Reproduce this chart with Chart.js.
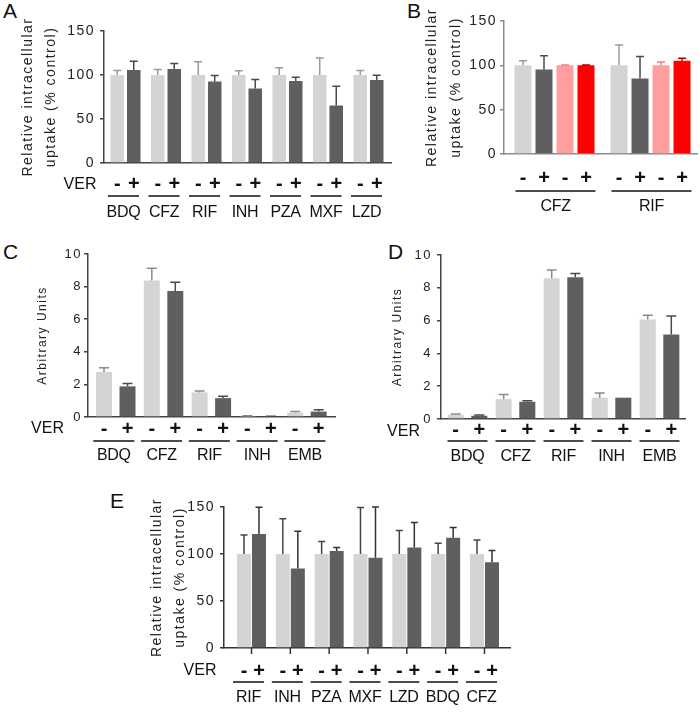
<!DOCTYPE html>
<html><head><meta charset="utf-8">
<script src="https://cdn.jsdelivr.net/npm/chart.js@4.4.1/dist/chart.umd.min.js"></script>
<style>
body{margin:0;background:#fff;width:700px;height:713px;position:relative;overflow:hidden;font-family:"Liberation Sans",Arial,sans-serif}
canvas{position:absolute}
.L{position:absolute;font-size:21px;line-height:21px;color:#111}
</style></head><body>
<div class="L" style="left:3px;top:0px">A</div>
<div class="L" style="left:407px;top:0px">B</div>
<div class="L" style="left:3px;top:241px">C</div>
<div class="L" style="left:388px;top:241px">D</div>
<div class="L" style="left:110px;top:490px">E</div>
<canvas id="cA" width="400" height="230" style="left:0;top:0"></canvas>
<canvas id="cB" width="300" height="230" style="left:400px;top:0"></canvas>
<canvas id="cC" width="350" height="240" style="left:0;top:230px"></canvas>
<canvas id="cD" width="350" height="240" style="left:350px;top:230px"></canvas>
<canvas id="cE" width="420" height="233" style="left:140px;top:480px"></canvas>
<script>
// ---------- data ----------
const VER_SIGNS = ['-', '+'];
const B_SIGNS = ['-', '+', '-', '+'];
const UPTAKE_TITLE = ['Relative intracellular', 'uptake (% control)'];
const AU_TITLE = 'Arbitrary Units';

const A_drugs = ['BDQ', 'CFZ', 'RIF', 'INH', 'PZA', 'MXF', 'LZD'];
const A_minus = [100, 100, 100, 100, 100, 100, 100];
const A_minus_sd = [5.2, 6.3, 15.0, 4.9, 8.2, 19.4, 5.0];
const A_plus = [105.6, 106.7, 92.5, 84.7, 93.3, 65.3, 94.3];
const A_plus_sd = [10.1, 6.3, 6.8, 10.1, 4.1, 22.0, 5.4];

const B_drugs = ['CFZ', 'RIF'];
const B_s1 = [100, 100];
const B_s1_sd = [5.2, 23.0];
const B_s2 = [95.2, 85.2];
const B_s2_sd = [15.5, 24.8];
const B_s3 = [100, 100];
const B_s3_sd = [0.5, 3.7];
const B_s4 = [100, 105.2];
const B_s4_sd = [0.3, 2.8];

const C_drugs = ['BDQ', 'CFZ', 'RIF', 'INH', 'EMB'];
const C_minus = [2.76, 8.37, 1.51, 0.06, 0.27];
const C_minus_sd = [0.26, 0.75, 0.08, 0.02, 0.06];
const C_plus = [1.88, 7.73, 1.16, 0.04, 0.33];
const C_plus_sd = [0.18, 0.54, 0.11, 0.01, 0.12];

const D_drugs = ['BDQ', 'CFZ', 'RIF', 'INH', 'EMB'];
const D_minus = [0.26, 1.21, 8.58, 1.30, 6.07];
const D_minus_sd = [0.04, 0.29, 0.51, 0.28, 0.25];
const D_plus = [0.20, 1.05, 8.64, 1.30, 5.16];
const D_plus_sd = [0.04, 0.06, 0.23, 0, 1.12];

const E_drugs = ['RIF', 'INH', 'PZA', 'MXF', 'LZD', 'BDQ', 'CFZ'];
const E_minus = [100, 100, 100, 100, 100, 100, 100];
const E_minus_sd = [20.3, 37.4, 13.2, 49.5, 24.9, 11.4, 15.0];
const E_plus = [121.4, 84.7, 103.2, 96.1, 106.8, 117.4, 91.1];
const E_plus_sd = [28.4, 39.5, 3.6, 54.0, 26.7, 10.7, 12.5];

// ---------- styling ----------
const FONT = '"Liberation Sans", Arial, sans-serif';
const LIGHT = '#d4d4d4', DARK = '#5f5f5f', PINK = '#ff9e9e', RED = '#ff0000';

function makeDeco(p) {
  return {
    id: 'deco',
    beforeDraw(chart) { chart.ctx.letterSpacing = p.spacing; },
    afterDatasetsDraw(chart) {
      const ctx = chart.ctx, ys = chart.scales.y;
      ctx.save();
      chart.data.datasets.forEach((ds, di) => {
        chart.getDatasetMeta(di).data.forEach((bar, i) => {
          const sd = ds.sd[i];
          if (!sd) return;
          const yTop = ys.getPixelForValue(ds.data[i].y + sd);
          ctx.strokeStyle = ds.errColor;
          ctx.lineWidth = 1.5;
          ctx.beginPath();
          ctx.moveTo(bar.x, bar.y);
          ctx.lineTo(bar.x, yTop);
          ctx.moveTo(bar.x - p.cap / 2, yTop);
          ctx.lineTo(bar.x + p.cap / 2, yTop);
          ctx.stroke();
        });
      });
      ctx.restore();
    },
    afterDraw(chart) {
      const ctx = chart.ctx, xs = chart.scales.x, area = chart.chartArea;
      ctx.save();
      ctx.letterSpacing = '0px';
      ctx.fillStyle = '#111';
      ctx.strokeStyle = '#111';
      ctx.textAlign = 'center';
      ctx.textBaseline = 'middle';
      ctx.font = 'bold ' + p.signSize + 'px ' + FONT;
      chart.data.datasets.forEach((ds, di) => {
        chart.getDatasetMeta(di).data.forEach(bar => ctx.fillText(ds.sign, bar.x, p.signY));
      });
      ctx.font = '16px ' + FONT;
      if (p.ver) ctx.fillText('VER', p.ver[0], p.ver[1]);
      ctx.letterSpacing = '-0.3px';
      ctx.lineWidth = 1.5;
      p.groups.forEach((g, i) => {
        const c = xs.getPixelForValue(i) + p.lineShift;
        ctx.beginPath();
        ctx.moveTo(c - p.lineW / 2, p.lineY);
        ctx.lineTo(c + p.lineW / 2, p.lineY);
        ctx.stroke();
        ctx.fillText(g, c, p.groupY);
        if (p.xTicks) {
          const cx = xs.getPixelForValue(i);
          ctx.strokeStyle = p.axis;
          ctx.beginPath();
          ctx.moveTo(cx, area.bottom);
          ctx.lineTo(cx, area.bottom + 6);
          ctx.stroke();
          ctx.strokeStyle = '#111';
        }
      });
      ctx.restore();
    }
  };
}

function panel(p) {
  const datasets = p.series.map((s, k) => ({
    data: s.values.map((v, i) => ({ x: i, y: v })),
    sd: s.sd,
    backgroundColor: s.color,
    errColor: s.err,
    sign: p.signs[k],
    categoryPercentage: p.catPct,
    barPercentage: p.barPct,
    borderWidth: 0
  }));
  new Chart(document.getElementById(p.id), {
    type: 'bar',
    data: { datasets },
    options: {
      responsive: false,
      animation: false,
      events: [],
      layout: { padding: { left: 0, right: p.padR, top: p.padT, bottom: 0 } },
      plugins: { legend: { display: false }, tooltip: { enabled: false } },
      scales: {
        x: {
          type: 'linear', min: p.xMin, max: p.xMax, offset: false,
          ticks: { display: false },
          grid: { display: false, drawTicks: false, offset: false },
          border: { display: true, color: p.axis, width: 1.5 },
          afterBuildTicks: s => { s.ticks = p.groups.map((g, i) => ({ value: i })); },
          afterFit: s => { s.height = p.xH; }
        },
        y: {
          min: 0, max: p.yMax,
          ticks: { stepSize: p.yStep, font: { family: FONT, size: p.tickSize }, color: '#222', padding: p.tickPad },
          grid: { display: true, drawOnChartArea: false, drawTicks: true, tickLength: 4, color: p.axis, lineWidth: 1.5 },
          border: { display: true, color: p.axis, width: 1.5 },
          title: {
            display: true, text: p.title, color: '#222',
            font: { family: FONT, size: p.titleSize, lineHeight: p.titleLH + 'px' },
            padding: { top: p.titlePad, bottom: 0 }
          },
          afterFit: s => { s.width = p.yW; }
        }
      }
    },
    plugins: [makeDeco(p)]
  });
}

panel({
  id: 'cA', groups: A_drugs, signs: VER_SIGNS,
  series: [
    { values: A_minus, sd: A_minus_sd, color: LIGHT, err: '#9a9a9a' },
    { values: A_plus, sd: A_plus_sd, color: DARK, err: '#4a4a4a' }
  ],
  xMin: -0.531, xMax: 6.556, catPct: 0.815, barPct: 0.82,
  yMax: 150, yStep: 50, padR: 9, padT: 31, yW: 104, xH: 67,
  tickSize: 14, tickPad: 5, spacing: '1.5px', axis: '#444',
  title: UPTAKE_TITLE, titleSize: 14, titleLH: 23, titlePad: 16.5,
  cap: 8, signSize: 20, signY: 184, lineY: 196, lineW: 31, lineShift: -2, groupY: 213,
  ver: [80, 185]
});

panel({
  id: 'cB', groups: B_drugs, signs: B_SIGNS,
  series: [
    { values: B_s1, sd: B_s1_sd, color: LIGHT, err: '#9a9a9a' },
    { values: B_s2, sd: B_s2_sd, color: DARK, err: '#4a4a4a' },
    { values: B_s3, sd: B_s3_sd, color: PINK, err: '#f08080' },
    { values: B_s4, sd: B_s4_sd, color: RED, err: '#b00000' }
  ],
  xMin: -0.526, xMax: 1.484, catPct: 0.875, barPct: 0.81,
  yMax: 150, yStep: 50, padR: 3, padT: 21, yW: 104, xH: 76,
  tickSize: 14, tickPad: 3, spacing: '1.5px', axis: '#8a8a8a',
  title: UPTAKE_TITLE, titleSize: 14, titleLH: 24, titlePad: 20,
  cap: 8, signSize: 20, signY: 178, lineY: 191, lineW: 80, lineShift: 1, groupY: 207,
  ver: null
});

panel({
  id: 'cC', groups: C_drugs, signs: VER_SIGNS,
  series: [
    { values: C_minus, sd: C_minus_sd, color: LIGHT, err: '#8a8a8a' },
    { values: C_plus, sd: C_plus_sd, color: DARK, err: '#4a4a4a' }
  ],
  xMin: -0.581, xMax: 4.587, catPct: 0.983, barPct: 0.68,
  yMax: 10, yStep: 2, padR: 15, padT: 24, yW: 88, xH: 53,
  tickSize: 13, tickPad: 2, spacing: '1.5px', axis: '#444',
  title: AU_TITLE, titleSize: 12, titleLH: 14, titlePad: 36,
  cap: 10, signSize: 20, signY: 199, lineY: 211, lineW: 41, lineShift: -2, groupY: 226,
  ver: [47.5, 199]
});

panel({
  id: 'cD', groups: D_drugs, signs: VER_SIGNS,
  series: [
    { values: D_minus, sd: D_minus_sd, color: LIGHT, err: '#8a8a8a' },
    { values: D_plus, sd: D_plus_sd, color: DARK, err: '#4a4a4a' }
  ],
  xMin: -0.552, xMax: 4.531, catPct: 0.983, barPct: 0.68,
  yMax: 10, yStep: 2, padR: 15, padT: 25, yW: 91, xH: 51,
  tickSize: 13, tickPad: 5, spacing: '1.5px', axis: '#444',
  title: AU_TITLE, titleSize: 12, titleLH: 14, titlePad: 41,
  cap: 10, signSize: 20, signY: 200, lineY: 211, lineW: 40, lineShift: 0, groupY: 227,
  ver: [53.5, 202]
});

panel({
  id: 'cE', groups: E_drugs, signs: VER_SIGNS, xTicks: true,
  series: [
    { values: E_minus, sd: E_minus_sd, color: LIGHT, err: '#444' },
    { values: E_plus, sd: E_plus_sd, color: DARK, err: '#333' }
  ],
  xMin: -0.708, xMax: 6.657, catPct: 0.773, barPct: 0.933,
  yMax: 150, yStep: 50, padR: 50, padT: 27, yW: 84, xH: 65,
  tickSize: 14, tickPad: 5, spacing: '1.5px', axis: '#333',
  title: UPTAKE_TITLE, titleSize: 14, titleLH: 23, titlePad: 5.5,
  cap: 7, signSize: 20, signY: 191, lineY: 202, lineW: 31, lineShift: -3, groupY: 218,
  ver: [60, 191]
});
</script>
</body></html>
